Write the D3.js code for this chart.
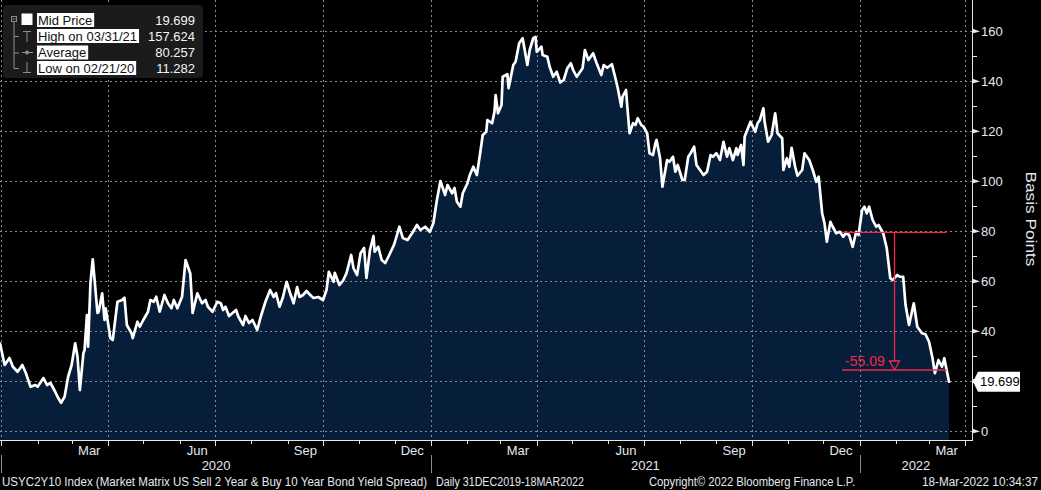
<!DOCTYPE html>
<html><head><meta charset="utf-8">
<script src="https://cdn.jsdelivr.net/npm/d3@7"></script>
<style>
body{margin:0;background:#000;}
svg{display:block;font-family:"Liberation Sans",Arial,sans-serif;}
</style>
</head><body>
<svg id="chart" width="1041" height="490"></svg>
<script>
// ---------------- DATA ----------------
const dates = [
"2019-12-31","2020-01-04","2020-01-08","2020-01-11","2020-01-15","2020-01-19","2020-01-22","2020-01-26","2020-01-30","2020-02-01",
"2020-02-06","2020-02-09","2020-02-12","2020-02-16","2020-02-18","2020-02-21","2020-02-24","2020-02-27","2020-03-01","2020-03-04",
"2020-03-06","2020-03-08","2020-03-11","2020-03-12","2020-03-14","2020-03-15","2020-03-17","2020-03-19","2020-03-23","2020-03-24",
"2020-03-27","2020-03-29","2020-03-30","2020-04-03","2020-04-05","2020-04-09","2020-04-13","2020-04-15","2020-04-17","2020-04-21",
"2020-04-22","2020-04-26","2020-04-28","2020-05-01","2020-05-05","2020-05-07","2020-05-10","2020-05-12","2020-05-15","2020-05-19",
"2020-05-22","2020-05-25","2020-05-27","2020-05-30","2020-06-03","2020-06-06","2020-06-10","2020-06-12","2020-06-16","2020-06-20",
"2020-06-23","2020-06-25","2020-06-29","2020-07-03","2020-07-06","2020-07-08","2020-07-10","2020-07-13","2020-07-16","2020-07-19",
"2020-07-21","2020-07-25","2020-07-27","2020-07-30","2020-08-02","2020-08-06","2020-08-09","2020-08-13","2020-08-17","2020-08-20",
"2020-08-22","2020-08-25","2020-08-28","2020-08-31","2020-09-03","2020-09-06","2020-09-09","2020-09-11","2020-09-14","2020-09-17",
"2020-09-21","2020-09-23","2020-09-27","2020-10-01","2020-10-04","2020-10-06","2020-10-10","2020-10-11","2020-10-15","2020-10-18",
"2020-10-21","2020-10-25","2020-10-27","2020-10-30","2020-11-02","2020-11-05","2020-11-07","2020-11-10","2020-11-13","2020-11-14",
"2020-11-17","2020-11-20","2020-11-23","2020-11-26","2020-11-30","2020-12-01","2020-12-05","2020-12-08","2020-12-12","2020-12-16",
"2020-12-20","2020-12-23","2020-12-27","2020-12-31","2021-01-03","2021-01-06","2021-01-09","2021-01-13","2021-01-15","2021-01-19",
"2021-01-21","2021-01-23","2021-01-26","2021-01-28","2021-02-01","2021-02-03","2021-02-06","2021-02-09","2021-02-12","2021-02-14",
"2021-02-17","2021-02-18","2021-02-22","2021-02-24","2021-02-25","2021-02-27","2021-03-02","2021-03-03","2021-03-07","2021-03-08",
"2021-03-12","2021-03-14","2021-03-17","2021-03-20","2021-03-24","2021-03-26","2021-03-29","2021-03-31","2021-04-01","2021-04-05",
"2021-04-06","2021-04-10","2021-04-12","2021-04-15","2021-04-18","2021-04-21","2021-04-24","2021-04-27","2021-04-30","2021-05-02",
"2021-05-05","2021-05-10","2021-05-12","2021-05-15","2021-05-19","2021-05-22","2021-05-26","2021-05-28","2021-05-31","2021-06-04",
"2021-06-07","2021-06-09","2021-06-12","2021-06-13","2021-06-16","2021-06-17","2021-06-19","2021-06-22","2021-06-24","2021-06-26",
"2021-06-29","2021-07-01","2021-07-04","2021-07-06","2021-07-09","2021-07-11","2021-07-12","2021-07-15","2021-07-17","2021-07-21",
"2021-07-23","2021-07-26","2021-07-28","2021-07-30","2021-08-03","2021-08-05","2021-08-08","2021-08-10","2021-08-13","2021-08-15",
"2021-08-18","2021-08-21","2021-08-24","2021-08-27","2021-08-29","2021-09-01","2021-09-04","2021-09-07","2021-09-10","2021-09-12",
"2021-09-15","2021-09-18","2021-09-19","2021-09-22","2021-09-24","2021-09-25","2021-09-30","2021-10-04","2021-10-06","2021-10-08",
"2021-10-11","2021-10-12","2021-10-15","2021-10-18","2021-10-21","2021-10-23","2021-10-27","2021-10-28","2021-10-31","2021-11-02",
"2021-11-04","2021-11-07","2021-11-09","2021-11-13","2021-11-15","2021-11-19","2021-11-22","2021-11-25","2021-11-27","2021-11-30",
"2021-12-02","2021-12-04","2021-12-07","2021-12-09","2021-12-12","2021-12-15","2021-12-18","2021-12-20","2021-12-23","2021-12-26",
"2021-12-29","2021-12-31","2022-01-03","2022-01-05","2022-01-07","2022-01-09","2022-01-12","2022-01-15","2022-01-17","2022-01-21",
"2022-01-22","2022-01-24","2022-01-27","2022-01-29","2022-02-02","2022-02-04","2022-02-07","2022-02-09","2022-02-12","2022-02-16",
"2022-02-19","2022-02-23","2022-02-26","2022-03-01","2022-03-04","2022-03-06","2022-03-09","2022-03-12","2022-03-14","2022-03-16",
"2022-03-18"
];
const values = [
35.1,26.4,29.2,25.7,23.7,26.4,23.2,17.7,18.4,17.7,
21.2,18.4,19.2,15.7,13.7,11.282,13.7,21.7,26.4,35.1,
29.7,16.4,31.1,32.4,46.4,33.7,59.1,68.7,47.2,47.7,
55.1,44.4,49.1,37.1,36.4,51.7,52.4,53.3,42.4,39.1,
37.1,43.7,41.7,44.4,47.7,52.4,51.7,53.7,47.7,54.4,
51.1,49.1,52.4,49.1,53.7,68.4,63.0,47.2,55.1,51.1,
52.4,49.7,47.7,51.7,51.1,48.4,49.7,46.0,47.2,48.4,
45.7,42.4,46.0,43.2,44.4,40.4,45.7,51.7,56.4,53.6,
55.1,49.7,53.7,59.7,55.1,51.1,57.6,53.6,54.4,56.0,
54.0,53.2,53.6,52.4,56.4,63.7,59.7,63.3,58.4,60.1,
63.1,70.4,65.1,62.4,71.1,73.2,61.2,72.4,78.0,71.7,
73.7,68.4,67.2,70.0,74.0,75.2,81.7,77.2,76.4,79.2,
82.4,80.4,81.7,79.7,83.2,92.4,100.0,94.4,98.4,95.1,
97.2,91.7,89.7,95.1,99.1,102.4,105.7,102.4,111.7,118.4,
119.7,124.4,123.1,127.7,134.4,127.1,130.4,141.7,142.7,137.1,
146.4,147.7,155.1,157.1,146.4,152.4,157.1,157.624,151.7,153.7,
150.4,149.7,145.7,141.7,143.7,139.4,140.4,145.1,147.1,144.4,
141.7,145.1,152.4,148.4,151.1,147.1,142.4,146.4,145.3,146.7,
141.1,137.1,129.7,133.7,136.4,130.4,119.1,123.1,122.4,125.1,
122.4,121.7,119.1,111.1,110.4,115.1,116.4,109.1,97.7,108.4,
107.7,109.7,103.7,106.4,100.4,100.4,109.7,111.1,113.7,106.4,
104.4,102.4,103.7,110.4,109.7,111.1,108.4,115.7,109.7,113.1,
108.4,113.1,110.4,114.4,106.4,117.7,123.7,119.7,123.1,124.4,
129.1,123.7,115.7,118.4,127.1,119.1,117.1,104.4,109.1,105.7,
113.3,105.7,102.1,104.4,111.1,108.4,104.4,99.7,101.7,87.1,
83.1,75.7,83.7,81.7,79.1,79.7,77.7,79.1,78.4,73.7,
79.7,78.4,88.4,89.7,87.1,89.7,84.4,81.7,82.4,79.1,
77.1,73.1,61.1,60.4,62.4,61.7,61.7,50.4,42.4,51.1,
41.7,39.1,38.7,35.7,29.1,23.1,28.4,25.7,29.1,24.4,
19.699
];
const yTicks = [0,20,40,60,80,100,120,140,160];
const yMinorTicks = [10,30,50,70,90,110,130,150];
const monthLabelNames = ["Mar","Jun","Sep","Dec"];
const yearLabels = ["2020","2021","2022"];
const legendLabels = ["Mid Price","High on 03/31/21","Average","Low on 02/21/20"];
const legendValues = ["19.699","157.624","80.257","11.282"];
const lastValueLabel = "19.699";
const annotDates = ["2021-12-17","2022-03-16","2022-01-30"]; // line start, line end, arrow
const annotLevels = [79.49, 24.40];
const annotText = "-55.09";
const footerTexts = [
  "USYC2Y10 Index (Market Matrix US Sell 2 Year & Buy 10 Year Bond Yield Spread)",
  "Daily 31DEC2019-18MAR2022",
  "Copyright\u00A9 2022 Bloomberg Finance L.P.",
  "18-Mar-2022 10:34:37"
];
const yAxisTitle = "Basis Points";

// ---------------- CHART ----------------
const parse = d3.timeParse("%Y-%m-%d");
const data = dates.map((d,i)=>({date: parse(d), value: values[i]}));
const W = 1041, H = 490;
const axisX = 972, plotBottom = 440;
const svg = d3.select("#chart");
const x = d3.scaleTime().domain([parse("2019-12-31"), parse("2022-03-18")]).range([0, 949]);
const y = d3.scaleLinear().domain([0,160]).range([431,31]);
const txt = "#e3e9f0";

svg.append("rect").attr("width",W).attr("height",H).attr("fill","#000");

// area
svg.append("path").datum(data)
  .attr("fill","#061e3a")
  .attr("d", d3.area().x(d=>x(d.date)).y0(plotBottom).y1(d=>y(d.value)));

// grid
const grid = svg.append("g").attr("stroke","#8a8a8a").attr("stroke-width",1).attr("stroke-dasharray","2,3");
yTicks.forEach(t=>{
  const yy = Math.round(y(t))+0.5;
  grid.append("line").attr("x1",0).attr("x2",axisX).attr("y1",yy).attr("y2",yy);
});
const quarters = d3.timeMonth.every(3).range(parse("2020-01-01"), parse("2022-04-02"));
quarters.forEach(q=>{
  const xx = Math.round(x(q))+0.5;
  grid.append("line").attr("x1",xx).attr("x2",xx).attr("y1",0).attr("y2",plotBottom);
});

// line
svg.append("path").datum(data)
  .attr("fill","none").attr("stroke","#fff").attr("stroke-width",2.7)
  .attr("stroke-linejoin","round").attr("stroke-linecap","round")
  .attr("d", d3.line().x(d=>x(d.date)).y(d=>y(d.value)));

// annotation
const red = "#f0284a";
const ann = svg.append("g").attr("stroke",red).attr("stroke-width",1.3).attr("fill","none");
const ax1 = x(parse(annotDates[0])), ax2 = x(parse(annotDates[1])), axA = Math.round(x(parse(annotDates[2])))+0.5;
const ay1 = y(annotLevels[0]), ay2 = y(annotLevels[1]);
ann.append("line").attr("x1",ax1).attr("x2",ax2).attr("y1",ay1).attr("y2",ay1);
ann.append("line").attr("x1",ax1).attr("x2",ax2).attr("y1",ay2).attr("y2",ay2);
ann.append("line").attr("x1",axA).attr("x2",axA).attr("y1",ay1).attr("y2",ay2-9);
ann.append("path").attr("d",`M${axA-5},${ay2-9}L${axA+5},${ay2-9}L${axA},${ay2}Z`);
svg.append("text").attr("x",ax1+3).attr("y",ay2-4).attr("fill",red)
  .attr("font-size",14).text(annotText);

// axes
const ax = svg.append("g").attr("stroke","#e8e8e8").attr("stroke-width",1);
ax.append("line").attr("x1",axisX+0.5).attr("x2",axisX+0.5).attr("y1",0).attr("y2",plotBottom+1);
ax.append("line").attr("x1",0).attr("x2",axisX+0.5).attr("y1",plotBottom+0.5).attr("y2",plotBottom+0.5);
ax.append("line").attr("x1",axisX-7).attr("x2",axisX).attr("y1",plotBottom+0.5).attr("y2",plotBottom+0.5);
yMinorTicks.forEach(t=>{
  const yy = Math.round(y(t))+0.5;
  ax.append("line").attr("x1",axisX).attr("x2",axisX+5).attr("y1",yy).attr("y2",yy);
});
yTicks.forEach(t=>{
  const yy = Math.round(y(t))+0.5;
  svg.append("path").attr("fill","#e8e8e8")
    .attr("d",`M${axisX},${yy-3}L${axisX+8},${yy}L${axisX},${yy+2}Z`);
  svg.append("text").attr("x",axisX+9).attr("y",yy+4.5).attr("fill",txt)
    .attr("font-size",13).text(t);
});

// x month ticks
const months = d3.timeMonth.range(parse("2020-01-01"), parse("2022-04-02"));
months.forEach(m=>{
  const xx = Math.round(x(m))+0.5;
  const isQ = m.getMonth()%3===0;
  ax.append("line").attr("x1",xx).attr("x2",xx).attr("y1",plotBottom).attr("y2",plotBottom+(isQ?6:4));
});
// month labels at month middle
months.filter(m=>[2,5,8,11].includes(m.getMonth())).forEach(m=>{
  const mid = d3.timeDay.offset(m,15);
  svg.append("text").attr("x",x(mid)).attr("y",455).attr("text-anchor","middle")
    .attr("fill",txt).attr("font-size",13).text(monthLabelNames[[2,5,8,11].indexOf(m.getMonth())]);
});
// years
const yearStarts = [parse("2020-01-01"), parse("2021-01-01"), parse("2022-01-01")];
yearLabels.forEach((lab,i)=>{
  const xs = x(yearStarts[i]);
  const xe = i<yearStarts.length-1 ? x(yearStarts[i+1]) : axisX;
  svg.append("text").attr("x",(xs+xe)/2).attr("y",470).attr("text-anchor","middle")
    .attr("fill",txt).attr("font-size",13).text(lab);
  svg.append("line").attr("x1",Math.round(xs)+0.5).attr("x2",Math.round(xs)+0.5)
    .attr("y1",455).attr("y2",473).attr("stroke","#8a8a8a");
});

// footer
const footerX = [2,436,649,922], footerW = [425,148,206,116];
footerTexts.forEach((t,i)=>{
  svg.append("text").attr("x",footerX[i]).attr("y",486).attr("fill",txt)
    .attr("font-size",12).attr("textLength",footerW[i]).attr("lengthAdjust","spacingAndGlyphs").text(t);
});

// y axis title
svg.append("text").attr("transform","translate(1026,219) rotate(90)")
  .attr("text-anchor","middle").attr("fill",txt).attr("font-size",15)
  .attr("textLength",95).attr("lengthAdjust","spacingAndGlyphs").text(yAxisTitle);

// last value tag
const ly = y(values[values.length-1]);
svg.append("path").attr("fill","#fff")
  .attr("d",`M${axisX+1},${ly}L${axisX+6},${ly-10}L1020,${ly-10}L1020,${ly+10}L${axisX+6},${ly+10}Z`);
svg.append("text").attr("x",980).attr("y",ly+4.5).attr("fill","#000").attr("font-size",13).text(lastValueLabel);

// legend
const lg = svg.append("g");
lg.append("rect").attr("x",3).attr("y",5).attr("width",200).attr("height",73).attr("rx",4).attr("fill","#1b1b1b");
const rowsY = [20,36,52.5,68];
const ic = lg.append("g").attr("stroke","#8d8d8d").attr("stroke-width",1).attr("fill","none");
ic.append("rect").attr("x",11.5).attr("y",16.5).attr("width",5).attr("height",5);
ic.append("line").attr("x1",12.5).attr("x2",15.5).attr("y1",19).attr("y2",19);
ic.append("line").attr("x1",14).attr("x2",14).attr("y1",22).attr("y2",68.5);
[36,52.5,68].forEach(r=>ic.append("line").attr("x1",14).attr("x2",19).attr("y1",r+0.5).attr("y2",r+0.5));
lg.append("rect").attr("x",21.5).attr("y",13.5).attr("width",11).attr("height",11.5).attr("fill","#fff");
ic.append("line").attr("x1",23).attr("x2",31).attr("y1",31.5).attr("y2",31.5);
ic.append("line").attr("x1",27).attr("x2",27).attr("y1",31.5).attr("y2",42);
ic.append("line").attr("x1",22).attr("x2",33).attr("y1",52.5).attr("y2",52.5);
lg.append("circle").attr("cx",27).attr("cy",52.5).attr("r",2).attr("fill","#8d8d8d");
ic.append("line").attr("x1",27).attr("x2",27).attr("y1",62).attr("y2",72.5);
ic.append("line").attr("x1",23).attr("x2",31).attr("y1",72.5).attr("y2",72.5);
legendLabels.forEach((lab,i)=>{
  const bg = lg.append("rect").attr("x",37).attr("y",rowsY[i]-7).attr("height",14).attr("fill","#fff");
  const t = lg.append("text").attr("x",38).attr("y",rowsY[i]+4.5).attr("fill","#111")
    .attr("font-size",13).text(lab);
  bg.attr("width", t.node().getComputedTextLength()+3);
  lg.append("text").attr("x",195).attr("y",rowsY[i]+4.5).attr("text-anchor","end")
    .attr("fill","#f4f4f4").attr("font-size",13).text(legendValues[i]);
});
</script>
</body></html>
